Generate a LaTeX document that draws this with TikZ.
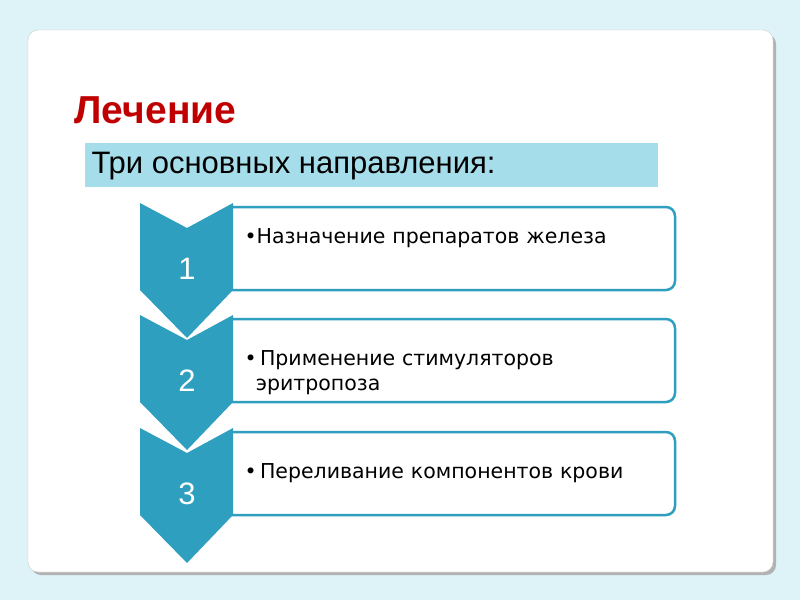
\documentclass[tikz,border=0pt]{standalone}
\usepackage{fontspec}
\setmainfont{Liberation Sans}
\newfontfamily\boxfont{DejaVu Sans}
\definecolor{bgc}{HTML}{DDF3F8}
\definecolor{teal}{HTML}{2E9FBF}
\definecolor{barc}{HTML}{A5DDEA}
\definecolor{redt}{HTML}{C00000}
\tikzset{item/.style={draw=teal,line width=2.5pt,fill=white,rounded corners=9pt},
 itxt/.style={anchor=west,font=\boxfont\fontsize{20.5}{25}\selectfont,align=left,text width=420pt},
 num/.style={text=white,font=\fontsize{31}{33}\selectfont}}
\begin{document}
\begin{tikzpicture}[x=1pt,y=-1pt]
\fill[bgc] (0,0) rectangle (800,600);
\useasboundingbox (0,0) rectangle (800,600);
\fill[gray!60,rounded corners=10pt] (31,34) rectangle (776,575);
\fill[white,draw=gray!40,rounded corners=10pt] (28,30) rectangle (773,572);
\node[anchor=west,text=redt,font=\bfseries\fontsize{39}{42}\selectfont] (title) at (71,110) {Лечение};
\fill[barc] (85,143) rectangle (658,187);
\node[anchor=west,font=\fontsize{31}{34}\selectfont] (sub) at (88,166) {Три основных направления:};
\foreach \t/\n/\ty/\txt in {203/1/238/{•Назначение препаратов железа},315/2/373/{•\,Применение стимуляторов\\\hspace*{0.55em}эритропоза},428/3/473/{•\,Переливание компонентов крови}}{
 \path[item] (232,\t+4) -- (675,\t+4) -- (675,\t+87) -- (232,\t+87);
 \fill[teal] (140,\t) -- (187,\t+25) -- (233,\t) -- (233,\t+87) -- (187,\t+135) -- (140,\t+87) -- cycle;
 \node[num] (n\n) at (187,\t+66) {\n};
 \node[itxt] (t\n) at (241,\ty) {\txt};
}
\end{tikzpicture}
\end{document}
